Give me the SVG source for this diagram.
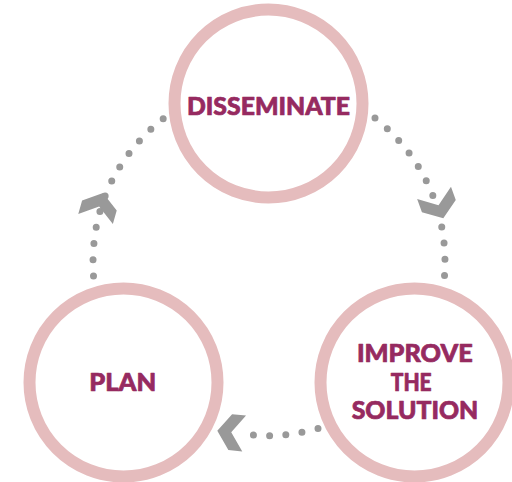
<svg xmlns="http://www.w3.org/2000/svg" width="512" height="482" viewBox="0 0 512 482">
  <style>
    .ring { fill: #ffffff; stroke: #e5bcbd; stroke-width: 12; }
    .label { font-family: "Lato", "Liberation Sans", sans-serif; font-weight: 900; font-size: 25px; fill: #962a60; stroke: #962a60; stroke-width: 0.7; stroke-linejoin: round; text-anchor: middle; }
    .dots { fill: none; stroke: #999999; stroke-width: 7; stroke-linecap: round; stroke-dasharray: 0 16.3; }
    .head { fill: #999999; }
  </style>
  <defs>
    <!-- chevron arrowhead, tip at origin, pointing along +x -->
    <path id="chevron" d="M0,0 L-13,-18 L-27,-18 L-14,0 L-27,18 L-13,18 Z"/>
  </defs>
  <rect width="512" height="482" fill="#ffffff"/>

  <g id="connectors">
    <!-- plan to disseminate -->
    <path class="dots" d="M93.5,276 C90,225 105,165 164,118"/>
    <use href="#chevron" class="head" transform="translate(103,193) rotate(-74)"/>
    <!-- disseminate to improve -->
    <path class="dots" d="M375,118 C433,165 448,225 444.5,276"/>
    <use href="#chevron" class="head" transform="translate(443.3,218.3) rotate(70)"/>
    <!-- improve to plan -->
    <path class="dots" d="M318,428.5 Q272,441 237.7,432.3"/>
    <use href="#chevron" class="head" transform="translate(217.3,430.7) rotate(186)"/>
  </g>

  <g id="node-disseminate">
    <circle class="ring" cx="268.5" cy="103.5" r="94"/>
    <text class="label" x="268.5" y="115" textLength="163" lengthAdjust="spacingAndGlyphs">DISSEMINATE</text>
  </g>

  <g id="node-plan">
    <circle class="ring" cx="123.5" cy="382.5" r="94"/>
    <text class="label" x="122.7" y="390.7" textLength="67" lengthAdjust="spacingAndGlyphs">PLAN</text>
  </g>

  <g id="node-improve">
    <circle class="ring" cx="414.5" cy="382.5" r="94"/>
    <text class="label" x="414.8" y="361.7" textLength="115.7" lengthAdjust="spacingAndGlyphs">IMPROVE</text>
    <text class="label" x="411.2" y="390.7" textLength="41" lengthAdjust="spacingAndGlyphs">THE</text>
    <text class="label" x="415" y="419.3" textLength="126.6" lengthAdjust="spacingAndGlyphs">SOLUTION</text>
  </g>
</svg>
